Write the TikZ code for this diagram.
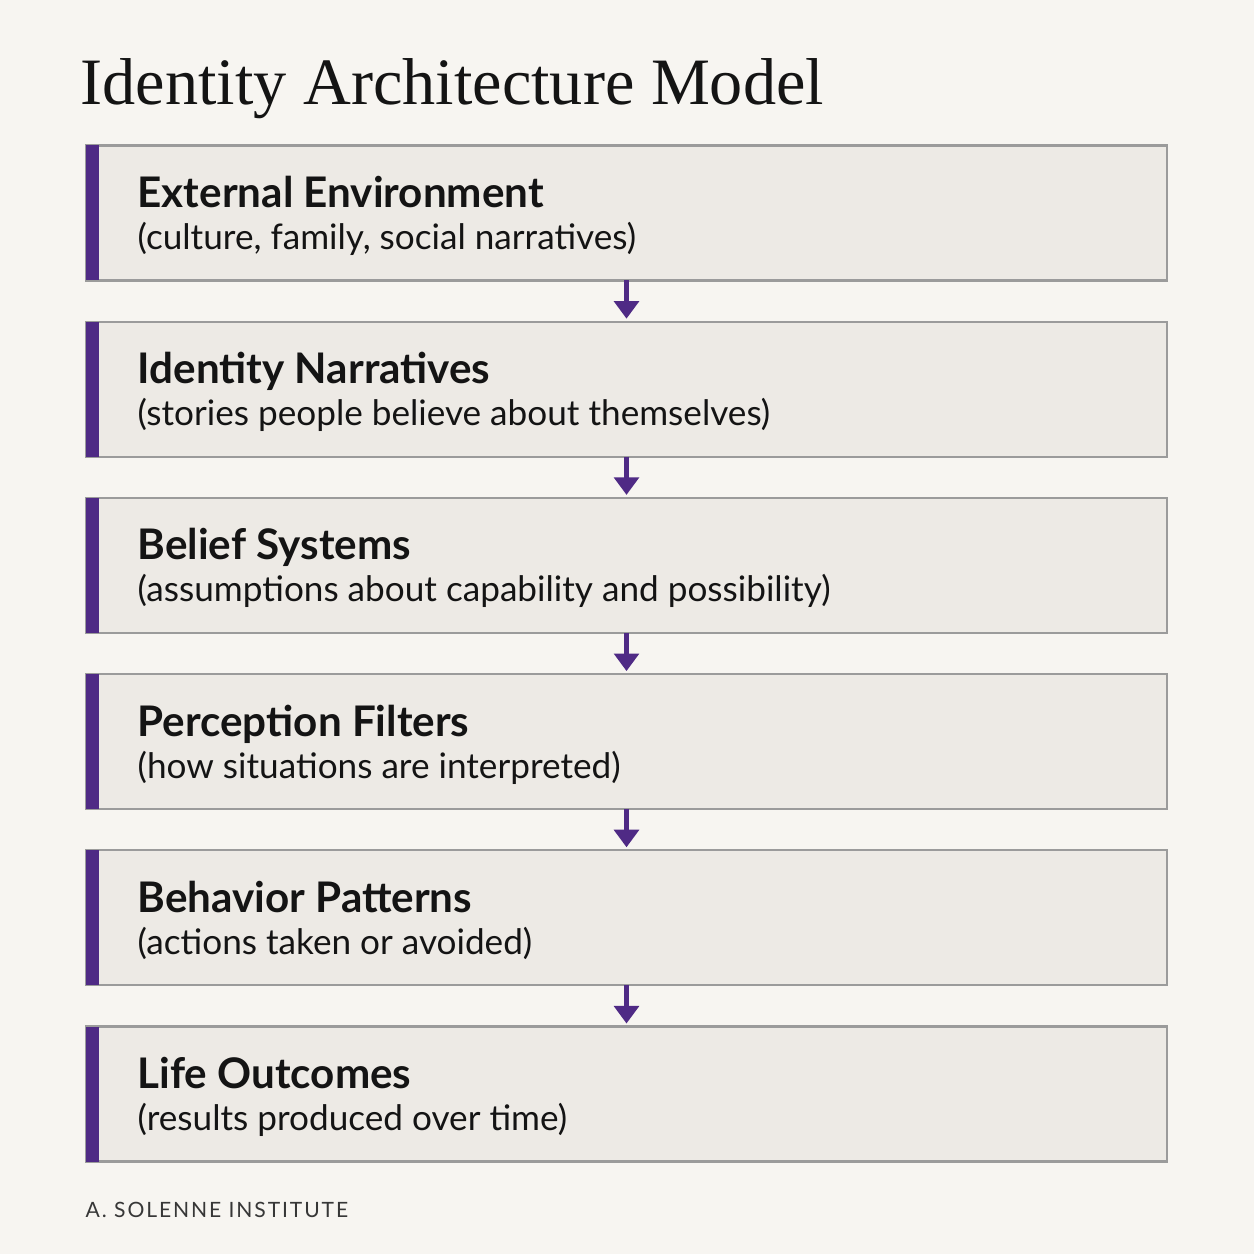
\documentclass[tikz,border=0pt]{standalone}
\usepackage{fontspec}
\setmainfont{Liberation Serif}
\newfontfamily\headfont{Lato}
\newfontfamily\footfont[LetterSpace=9]{Lato}
\usetikzlibrary{arrows.meta, positioning}

\definecolor{paper}{HTML}{F7F5F1}
\definecolor{boxfill}{HTML}{EDEAE5}
\definecolor{boxline}{HTML}{9B9B9B}
\definecolor{accent}{HTML}{4F2A85}
\definecolor{ink}{HTML}{141414}

\begin{document}
\begin{tikzpicture}[node distance=0.412cm,
    layer/.style={rectangle, draw=boxline, line width=0.6pt, fill=boxfill, minimum width=10.81cm, minimum height=1.35cm, outer sep=0pt, inner sep=0pt},
    head/.style={anchor=base west, inner sep=0pt, text=ink, font=\headfont\bfseries\fontsize{12}{14}\selectfont},
    sub/.style={anchor=base west, inner sep=0pt, text=ink, font=\headfont\fontsize{10}{12}\selectfont},
    flow/.style={draw=accent, line width=1.2pt, -{Triangle[length=5pt, width=7pt]}, shorten >=0.03cm}]
    \fill[paper] (0,0) rectangle (12.54,-12.54);
    \useasboundingbox (0,0) rectangle (12.54,-12.54);

    \node[anchor=base west, inner sep=0pt, text=ink, font=\fontsize{18.85}{23}\selectfont] (title) at (0.80,-1.05) {Identity Architecture Model};

    \node[layer] (env) at (6.265,-2.13) {};
    \node[layer] (nar) [below=of env] {};
    \node[layer] (bel) [below=of nar] {};
    \node[layer] (per) [below=of bel] {};
    \node[layer] (beh) [below=of per] {};
    \node[layer] (out) [below=of beh] {};

    \fill[accent] (env.north west) rectangle ([xshift=0.13cm]env.south west);
    \fill[accent] (nar.north west) rectangle ([xshift=0.13cm]nar.south west);
    \fill[accent] (bel.north west) rectangle ([xshift=0.13cm]bel.south west);
    \fill[accent] (per.north west) rectangle ([xshift=0.13cm]per.south west);
    \fill[accent] (beh.north west) rectangle ([xshift=0.13cm]beh.south west);
    \fill[accent] (out.north west) rectangle ([xshift=0.13cm]out.south west);

    \node[head] (env-h) at ([xshift=0.51cm, yshift=-0.62cm]env.north west) {External Environment};
    \node[sub] (env-s) at ([xshift=0.51cm, yshift=-1.04cm]env.north west) {(culture, family, social narratives)};
    \node[head] (nar-h) at ([xshift=0.51cm, yshift=-0.62cm]nar.north west) {Identity Narratives};
    \node[sub] (nar-s) at ([xshift=0.51cm, yshift=-1.04cm]nar.north west) {(stories people believe about themselves)};
    \node[head] (bel-h) at ([xshift=0.51cm, yshift=-0.62cm]bel.north west) {Belief Systems};
    \node[sub] (bel-s) at ([xshift=0.51cm, yshift=-1.04cm]bel.north west) {(assumptions about capability and possibility)};
    \node[head] (per-h) at ([xshift=0.51cm, yshift=-0.62cm]per.north west) {Perception Filters};
    \node[sub] (per-s) at ([xshift=0.51cm, yshift=-1.04cm]per.north west) {(how situations are interpreted)};
    \node[head] (beh-h) at ([xshift=0.51cm, yshift=-0.62cm]beh.north west) {Behavior Patterns};
    \node[sub] (beh-s) at ([xshift=0.51cm, yshift=-1.04cm]beh.north west) {(actions taken or avoided)};
    \node[head] (out-h) at ([xshift=0.51cm, yshift=-0.62cm]out.north west) {Life Outcomes};
    \node[sub] (out-s) at ([xshift=0.51cm, yshift=-1.04cm]out.north west) {(results produced over time)};

    \draw[flow] (env) -- (nar);
    \draw[flow] (nar) -- (bel);
    \draw[flow] (bel) -- (per);
    \draw[flow] (per) -- (beh);
    \draw[flow] (beh) -- (out);

    \node[anchor=base west, inner sep=0pt, text=ink!85, font=\footfont\fontsize{6}{7}\selectfont] (credit) at (0.85,-12.17) {A. SOLENNE INSTITUTE};
\end{tikzpicture}
\end{document}
